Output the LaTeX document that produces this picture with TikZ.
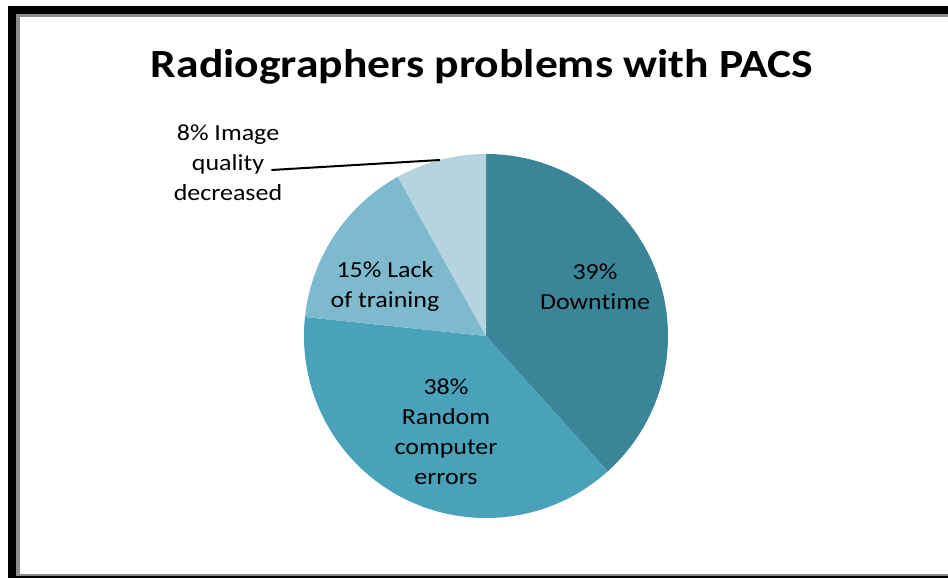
\documentclass[tikz,border=0pt]{standalone}
\usepackage{fontspec}
\setmainfont{Carlito}[Ligatures={NoCommon,NoContextual}]
\definecolor{downcol}{HTML}{3A8698}
\definecolor{randcol}{HTML}{49A2BA}
\definecolor{lackcol}{HTML}{7EBACE}
\definecolor{imgcol}{HTML}{B6D4E0}
\definecolor{framegray}{HTML}{8C8C8C}
\tikzset{
    slicelbl/.style={align=center, inner sep=0pt, xscale=1.13, font=\fontsize{23}{30}\selectfont},
}

\begin{document}
\begin{tikzpicture}[x=1pt, y=1pt]
            \useasboundingbox (0,0) rectangle (948,578);
            % frame
            \fill [black] (8,0) rectangle (16,572);
            \fill [black] (8,564) rectangle (948,572);
            \fill [black] (8,0) rectangle (948,2);
            \fill [framegray] (16,2) rectangle (20,564);
            \fill [framegray] (16,561) rectangle (948,564);
            \fill [framegray] (20,2) rectangle (948,4);

            % title
            \node (title) at (482,500) [anchor=base, inner sep=0pt, xscale=1.14, font=\bfseries\fontsize{40}{48}\selectfont] {Radiographers problems with PACS};

            % slices
            \coordinate (ctr) at (486,242);
            \foreach \a/\b/\c in {90/-48/downcol, -48/-186/randcol, -186/-241/lackcol, -241/-270/imgcol}{
                \fill [\c] (ctr) -- ++(\a:182) arc [start angle=\a, end angle=\b, radius=182] -- cycle;
            }

            % labels
            \node (downlbl) at (595,291) [slicelbl] {39\%\\Downtime};
            \node (lacklbl) at (385,292) [slicelbl] {15\% Lack\\of training};
            \node (randlbl) at (446,146) [slicelbl] {38\%\\Random\\computer\\errors};
            \node (imglbl) at (228,415) [slicelbl] {8\% Image\\quality\\decreased};
            \coordinate (imgtip) at (440,418);
            \draw [line width=2pt] ([shift={(-11pt,-7pt)}]imglbl.east) -- (imgtip);
        \end{tikzpicture}
\end{document}
